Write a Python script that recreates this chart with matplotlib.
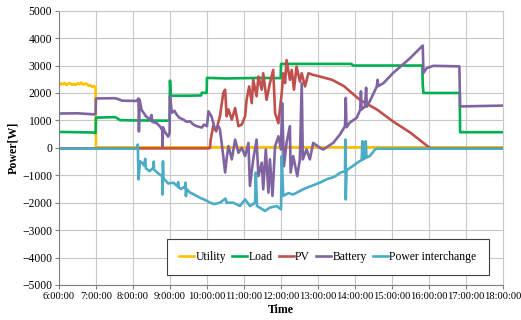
import matplotlib
matplotlib.use("Agg")
import matplotlib.pyplot as plt

plt.rcParams['font.family'] = ['Liberation Serif', 'DejaVu Serif']

# time in hours, power in W
t_util = [6.0, 6.05, 6.1, 6.15, 6.2, 6.25, 6.3, 6.35, 6.4, 6.45, 6.5, 6.55, 6.6, 6.65,
          6.7, 6.75, 6.8, 6.85, 6.9, 6.95, 6.99, 7.0, 18.0]
p_util = [2280, 2350, 2310, 2370, 2290, 2340, 2360, 2300, 2330, 2290, 2350, 2320, 2380, 2300,
          2340, 2330, 2260, 2280, 2220, 2250, 2190, 20, 20]

t_load = [6.0, 6.5, 6.9, 6.99, 7.0, 7.5, 7.55, 7.65, 8.0, 8.2, 8.9, 8.99, 9.0, 9.02, 9.5,
          9.84, 9.86, 9.99, 10.0, 10.5, 11.0, 11.5, 11.99, 12.0, 13.0, 13.9, 13.95, 15.0,
          15.82, 15.83, 15.85, 16.5, 16.83, 16.84, 18.0]
p_load = [580, 570, 560, 540, 1100, 1120, 1100, 1010, 1000, 1000, 990, 1000, 2450, 1900, 1900,
          1910, 2010, 2000, 2550, 2530, 2540, 2550, 2540, 3060, 3060, 3060, 3000, 3000,
          3000, 2300, 2000, 2000, 2000, 570, 570]

t_pv = [6.0, 10.05, 10.08, 10.1, 10.17, 10.25, 10.3, 10.35, 10.44, 10.49, 10.53, 10.58, 10.67,
        10.76, 10.85, 10.94, 11.03, 11.07, 11.14, 11.21, 11.25, 11.34, 11.39, 11.48, 11.52,
        11.61, 11.7, 11.79, 11.84, 11.93, 12.02, 12.06, 12.11, 12.15, 12.24, 12.29, 12.35,
        12.42, 12.51, 12.56, 12.65, 12.74, 12.87, 13.05, 13.38, 13.7, 14.13, 14.6, 15.03,
        15.5, 15.97, 16.05, 18.0]
p_pv = [-20, -20, 0, 300, 800, 600, 900, 1150, 2000, 2120, 1150, 1400, 1030,
        1450, 790, 850, 1150, 1750, 2240, 1630, 2480, 1880, 2600, 2120, 2720,
        1750, 2360, 2840, 1270, 900, 2000, 2720, 2360, 3200, 2480, 2840, 2120,
        2960, 2420, 2720, 2240, 2720, 2660, 2600, 2480, 2250, 1750, 1390, 960,
        550, 50, -20, -20]

t_bat = [6.0, 6.5, 6.95, 6.99, 7.0, 7.5, 7.6, 7.7, 8.1, 8.15, 8.16, 8.18, 8.23, 8.35, 8.46,
         8.5, 8.52, 8.64, 8.73, 8.79, 8.8, 8.81, 8.86, 8.95, 8.99, 9.0, 9.05, 9.12, 9.18,
         9.25, 9.36, 9.45, 9.54, 9.63, 9.72, 9.86, 9.92, 10.0, 10.04, 10.12, 10.22, 10.31,
         10.35, 10.44, 10.49, 10.53, 10.58, 10.67, 10.76, 10.85, 10.94, 11.03, 11.12, 11.16,
         11.25, 11.34, 11.39, 11.48, 11.52, 11.59, 11.66, 11.7, 11.77, 11.84, 11.93, 12.0,
         12.03, 12.08, 12.15, 12.24, 12.26, 12.33, 12.44, 12.51, 12.56, 12.59, 12.69, 12.78,
         12.87, 13.05, 13.14, 13.41, 13.59, 13.73, 13.75, 13.77, 13.86, 14.05, 14.14, 14.16,
         14.18, 14.27, 14.3, 14.32, 14.4, 14.59, 14.61, 14.63, 14.77, 15.03, 15.49, 15.83,
         15.85, 15.94, 16.12, 16.82, 16.84, 18.0]
p_bat = [1250, 1260, 1220, 1230, 1800, 1810, 1780, 1720, 1710, 1800, 600, 1750, 1390, 1150, 1030,
         1200, 950, 900, 780, 650, 50, 750, 590, 410, 550, 1900, 1280, 1350, 1210,
         1100, 1030, 950, 970, 850, 790, 740, 850, 790, 1330, 1150, 670, 790,
         670, -300, -900, -400, 60, -420, 300, -180, 0, -300, 180, -1390,
         -420, 300, -1030, -540, -1510, -60, -1630, -420, -1750, 60, 420, -60,
         1630, -670, 180, 790, -900, -300, -1030, -420, 2360, -420, -60, -420,
         180, 0, -60, 180, 480, 790, 1820, 750, 920, 1100, 1390, 2060,
         1400, 1510, 2190, 1500, 1700, 2240, 2480, 2250, 2360, 2730, 3270, 3730,
         2730, 2910, 2990, 2970, 1510, 1540]

t_int = [6.0, 8.1, 8.13, 8.15, 8.19, 8.25, 8.3, 8.33, 8.35, 8.45, 8.55, 8.56, 8.57, 8.7,
         8.79, 8.8, 8.81, 8.82, 8.85, 8.95, 9.09, 9.2, 9.22, 9.24, 9.3, 9.41, 9.42, 9.43,
         9.45, 9.54, 9.65, 9.81, 9.95, 10.08, 10.2, 10.35, 10.5, 10.53, 10.71, 10.89, 11.03,
         11.16, 11.3, 11.32, 11.35, 11.45, 11.57, 11.7, 11.88, 12.0, 12.02, 12.06, 12.2,
         12.33, 12.6, 12.8, 13.05, 13.23, 13.45, 13.6, 13.73, 13.74, 13.75, 13.77, 13.93,
         14.12, 14.18, 14.2, 14.22, 14.27, 14.29, 14.31, 14.4, 14.54, 14.6, 18.0]
p_int = [-30, -30, 120, -1150, -490, -550, -650, -400, -750, -850, -730, -500, -800, -950,
         -1030, -1700, -490, -1100, -1150, -1300, -1270, -1400, -1250, -1450, -1500, -1400, -1270, -1760,
         -1500, -1630, -1700, -1820, -1900, -2000, -2050, -2000, -1850, -2000, -2000, -2120, -1880,
         -2120, -2000, -900, -2120, -2200, -2300, -2180, -2120, -2240, -300, -1750, -1650,
         -1700, -1510, -1400, -1270, -1150, -1050, -910, -850, 300, -1880, -820, -670,
         -490, -450, 240, -420, -380, 240, -350, -300, -60, -30, -30]

ticks_h = list(range(6, 19))
tick_labels = ["%d:00:00" % h for h in ticks_h]

fig = plt.figure(figsize=(5.21, 3.2), dpi=100)
ax = fig.add_axes([0.1132, 0.1094, 0.8523, 0.8572])

lw = 1.9
ax.plot(t_util, p_util, color="#FFC000", lw=lw, label="Utility")
ax.plot(t_load, p_load, color="#00B050", lw=lw, label="Load")
ax.plot(t_pv, p_pv, color="#C0504D", lw=lw, label="PV")
ax.plot(t_bat, p_bat, color="#8064A2", lw=lw, label="Battery")
ax.plot(t_int, p_int, color="#4BACC6", lw=lw, label="Power interchange")

ax.set_xlim(6, 18)
ax.set_ylim(-5000, 5000)
ax.set_xticks(ticks_h)
ax.set_xticklabels(tick_labels, fontsize=7.6)
ax.set_yticks(range(-5000, 5001, 1000))
ax.tick_params(axis="y", labelsize=8.4, length=3, color="#808080", pad=2)
ax.tick_params(axis="x", length=3, color="#808080", pad=2)
ax.grid(True, color="#C8C8C8", lw=0.8)
ax.set_axisbelow(True)
for s in ["top", "right"]:
    ax.spines[s].set_color("#C8C8C8")
for s in ["left", "bottom"]:
    ax.spines[s].set_color("#808080")

ax.set_xlabel("Time", fontsize=8.6, fontweight="bold", labelpad=2)
ax.set_ylabel("Power[W]", fontsize=8.6, fontweight="bold", labelpad=2)

leg = ax.legend(loc="lower left", bbox_to_anchor=(0.243, 0.036, 0.725, 0.13), mode="expand",
                ncol=5, fontsize=8.4, handlelength=1.3, handletextpad=0.1,
                columnspacing=0.6, borderaxespad=0, borderpad=1.05,
                fancybox=False, framealpha=1)
leg.get_frame().set_edgecolor("#404040")
leg.get_frame().set_linewidth(0.8)

fig.savefig("out.png", dpi=100)
